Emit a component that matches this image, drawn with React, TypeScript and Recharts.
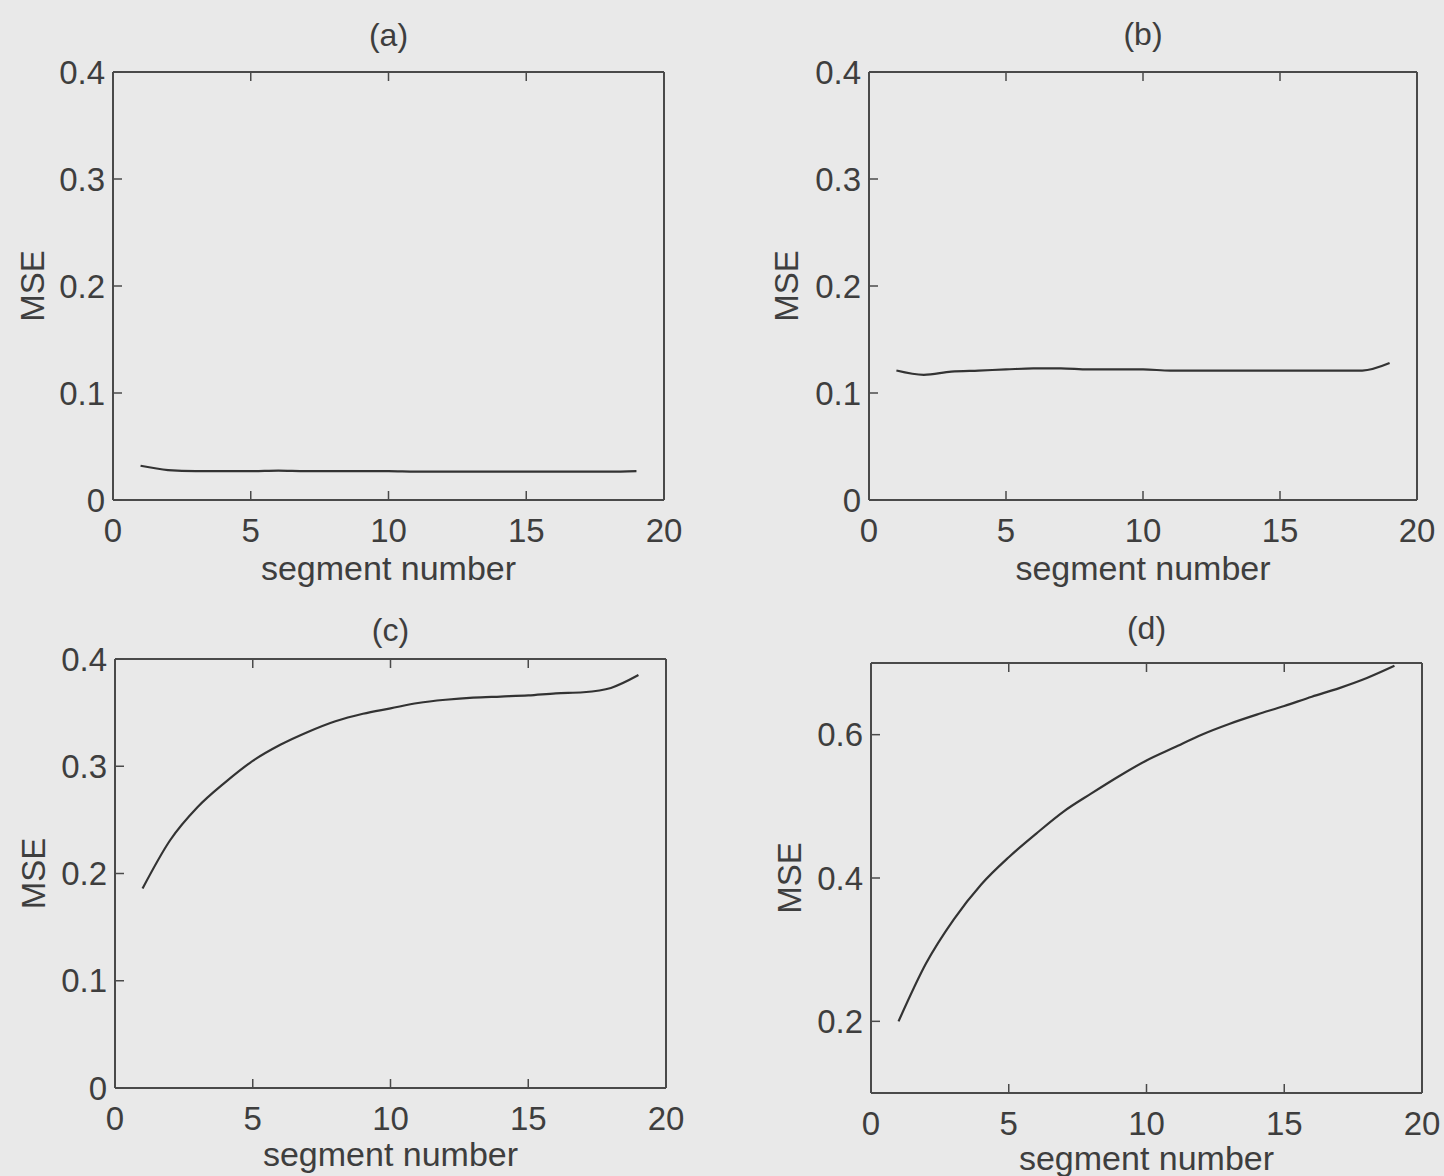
import { Label, Line, LineChart, XAxis, YAxis } from "recharts";

// 구간 번호별 MSE, 네 개의 부분 그래프 (a)~(d). 값은 원본 그림에서 눈으로 읽은 것.
const SEGMENTS = [1, 2, 3, 4, 5, 6, 7, 8, 9, 10, 11, 12, 13, 14, 15, 16, 17, 18, 19];

const MSE_A = [
  0.032, 0.028, 0.027, 0.027, 0.027, 0.0275, 0.027, 0.027, 0.027, 0.027, 0.0265, 0.0265, 0.0265, 0.0265,
  0.0265, 0.0265, 0.0265, 0.0265, 0.027,
];
const MSE_B = [
  0.121, 0.117, 0.12, 0.121, 0.122, 0.123, 0.123, 0.122, 0.122, 0.122, 0.121, 0.121, 0.121, 0.121, 0.121,
  0.121, 0.121, 0.121, 0.128,
];
const MSE_C = [
  0.186, 0.231, 0.262, 0.285, 0.305, 0.32, 0.332, 0.342, 0.349, 0.354, 0.359, 0.362, 0.364, 0.365, 0.366,
  0.368, 0.369, 0.373, 0.385,
];
const MSE_D = [
  0.2, 0.281, 0.342, 0.391, 0.429, 0.462, 0.493, 0.518, 0.542, 0.564, 0.582, 0.6, 0.615, 0.628, 0.64,
  0.653, 0.665, 0.679, 0.696,
];

const X_TICKS = [0, 5, 10, 15, 20];
const Y_TICKS_ABC = [0, 0.1, 0.2, 0.3, 0.4];
const Y_TICKS_D = [0.2, 0.4, 0.6];

const INK = "#3e3e3e";
const FONT = "'Liberation Sans', Arial, Helvetica, sans-serif";
const TICK = -9; // MATLAB처럼 눈금은 안쪽으로 (음수 tickSize)

type PanelProps = {
  title: string;
  values: number[];
  yDomain: [number, number];
  yTicks: number[];
  left: number;
  top: number;
  width: number;
  height: number;
  margin: { top: number; right: number; bottom: number; left: number };
  titleOffset: number;
  xLabelOffset: number;
  yLabelOffset: number;
};

function Panel(p: PanelProps) {
  const data = SEGMENTS.map((s, i) => ({ seg: s, mse: p.values[i] }));
  const tickStyle = { fill: INK, fontSize: 33, fontFamily: FONT };
  const axisLine = { stroke: "#4a4a4a", strokeWidth: 2 };
  const tickLine = { stroke: "#4a4a4a", strokeWidth: 1.5 };
  const blank = () => "";
  // 위/오른쪽 축은 크기가 0이면 아예 안 그려져서 1px짜리로 둔다.
  return (
    <div style={{ position: "absolute", left: p.left, top: p.top }}>
      <LineChart width={p.width} height={p.height} data={data} margin={p.margin}>
        <XAxis
          xAxisId="b"
          dataKey="seg"
          type="number"
          domain={[0, 20]}
          ticks={X_TICKS}
          height={80}
          tickSize={TICK}
          tickMargin={28}
          axisLine={axisLine}
          tickLine={tickLine}
          tick={tickStyle}
          interval={0}
        >
          <Label
            value="segment number"
            position="insideBottom"
            offset={p.xLabelOffset}
            style={{ fill: INK, fontSize: 34, fontFamily: FONT }}
          />
        </XAxis>
        <XAxis
          xAxisId="t"
          dataKey="seg"
          type="number"
          orientation="top"
          domain={[0, 20]}
          ticks={X_TICKS}
          height={1}
          tickSize={TICK}
          tickFormatter={blank}
          axisLine={axisLine}
          tickLine={tickLine}
          interval={0}
        >
          <Label
            value={p.title}
            position="top"
            offset={p.titleOffset}
            style={{ fill: INK, fontSize: 32, fontFamily: FONT }}
          />
        </XAxis>
        <YAxis
          yAxisId="l"
          type="number"
          domain={p.yDomain}
          ticks={p.yTicks}
          width={100}
          tickSize={TICK}
          tickMargin={17}
          axisLine={axisLine}
          tickLine={tickLine}
          tick={tickStyle}
          interval={0}
        >
          <Label
            value="MSE"
            angle={-90}
            position="insideLeft"
            offset={p.yLabelOffset}
            style={{ fill: INK, fontSize: 33, fontFamily: FONT, textAnchor: "middle" }}
          />
        </YAxis>
        <YAxis
          yAxisId="r"
          type="number"
          orientation="right"
          domain={p.yDomain}
          ticks={p.yTicks}
          width={1}
          tickSize={TICK}
          tickFormatter={blank}
          axisLine={axisLine}
          tickLine={tickLine}
          interval={0}
        />
        <Line
          xAxisId="b"
          yAxisId="l"
          dataKey="mse"
          type="monotone"
          stroke="#333333"
          strokeWidth={2.2}
          dot={false}
          isAnimationActive={false}
        />
      </LineChart>
    </div>
  );
}

export default function App() {
  return (
    <div
      style={{
        position: "absolute",
        left: 0,
        top: 0,
        width: 1444,
        height: 1176,
        background: "#e9e9e9",
        overflow: "hidden",
      }}
    >
      <Panel
        title="(a)"
        values={MSE_A}
        yDomain={[0, 0.4]}
        yTicks={Y_TICKS_ABC}
        left={0}
        top={0}
        width={720}
        height={600}
        margin={{ top: 71, right: 55, bottom: 20, left: 13 }}
        titleOffset={25}
        xLabelOffset={0}
        yLabelOffset={19}
      />
      <Panel
        title="(b)"
        values={MSE_B}
        yDomain={[0, 0.4]}
        yTicks={Y_TICKS_ABC}
        left={720}
        top={0}
        width={724}
        height={600}
        margin={{ top: 71, right: 26, bottom: 20, left: 49 }}
        titleOffset={26}
        xLabelOffset={0}
        yLabelOffset={17}
      />
      <Panel
        title="(c)"
        values={MSE_C}
        yDomain={[0, 0.4]}
        yTicks={Y_TICKS_ABC}
        left={0}
        top={600}
        width={720}
        height={576}
        margin={{ top: 58, right: 53, bottom: 8, left: 15 }}
        titleOffset={17}
        xLabelOffset={2}
        yLabelOffset={18}
      />
      <Panel
        title="(d)"
        values={MSE_D}
        yDomain={[0.1, 0.7]}
        yTicks={Y_TICKS_D}
        left={720}
        top={600}
        width={724}
        height={576}
        margin={{ top: 62, right: 21, bottom: 3, left: 51 }}
        titleOffset={23}
        xLabelOffset={3}
        yLabelOffset={18}
      />
    </div>
  );
}
